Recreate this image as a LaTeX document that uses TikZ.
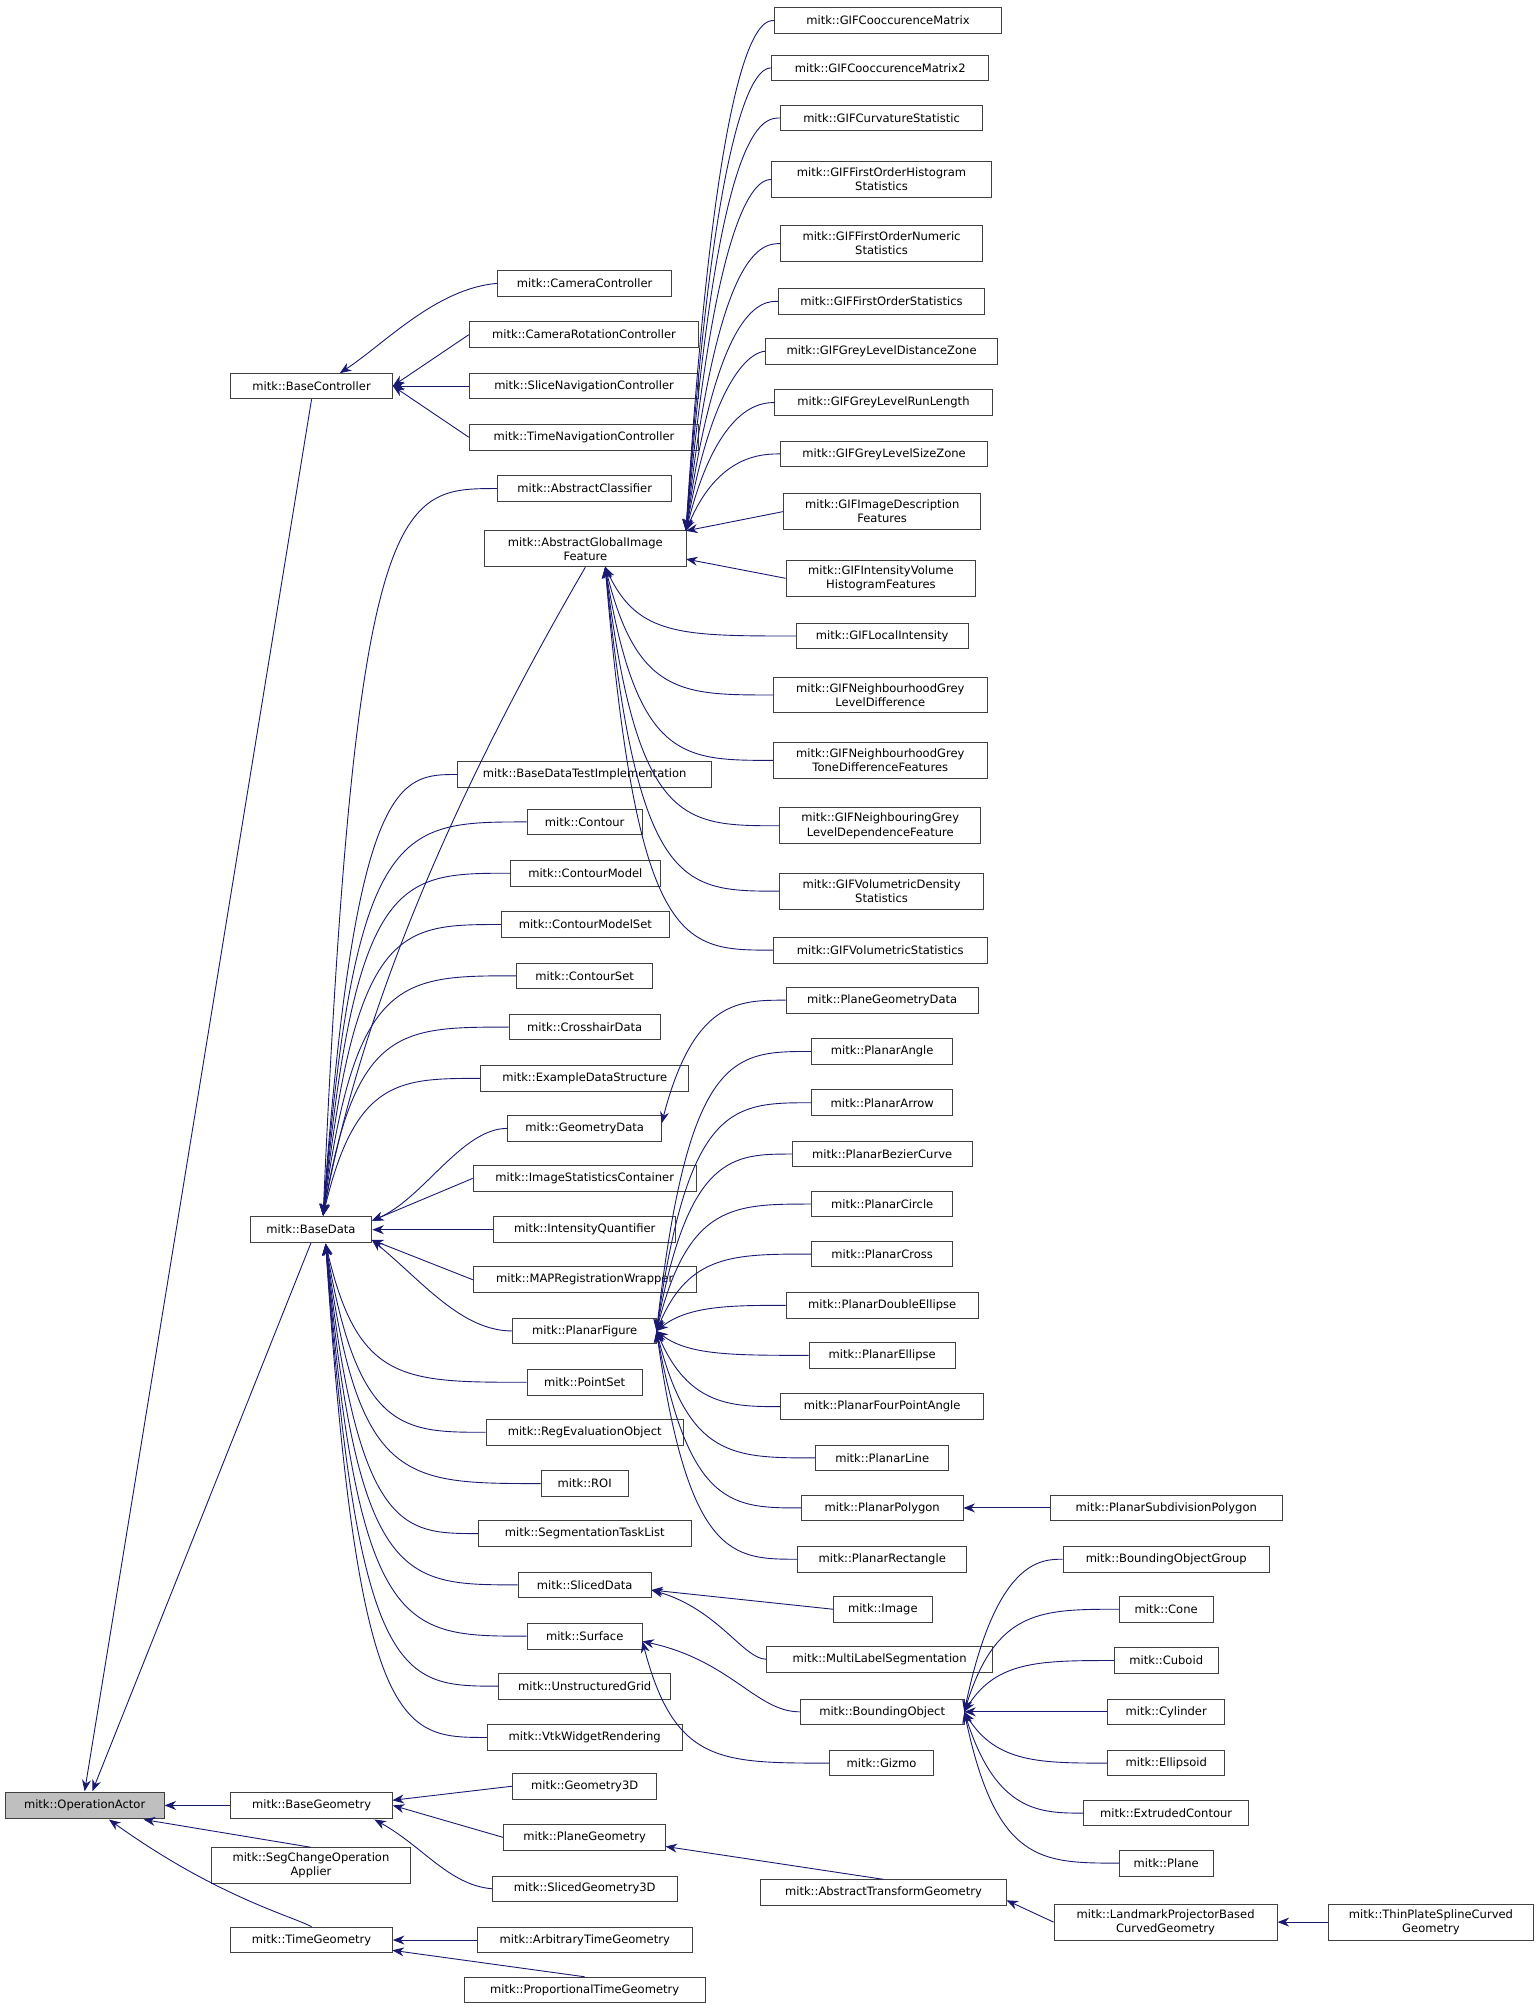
\documentclass[tikz,border=0pt]{standalone}
\usepackage{fontspec}
\setmainfont{DejaVu Sans}
\usetikzlibrary{arrows.meta,calc}
\definecolor{arr}{RGB}{25,25,112}
\tikzset{
 box/.style={draw=black!75,line width=0.7pt,inner sep=1pt,minimum height=20pt,align=center,font=\fontsize{9}{11}\selectfont},
 e/.style={draw=arr,line width=0.7pt,{Stealth[length=9pt,width=7pt]}-},
}
\newcommand\bx[6][]{\node[box,#1,minimum width={(#4)-(#3)}] (#2) at ({((#3)+(#4))/2},#5) {#6};}
\newcommand\lnk[2]{\draw[e] (#1) .. controls ($(#2.west -| #1)+(25,0)$) and ($(#2.west -| #1)+(60,0)$) .. (#2.west);}
\begin{document}
\begin{tikzpicture}[x=1pt,y=-1pt]
\useasboundingbox (0,0) rectangle (1200,1566);
\bx[fill=black!25]{oa}{4}{128}{1408}{mitk::OperationActor}
\bx{bc}{180}{306}{301}{mitk::BaseController}
\bx{bd}{195}{290}{959}{mitk::BaseData}
\bx{bg}{180}{306}{1408}{mitk::BaseGeometry}
\bx[minimum height=28pt]{sc}{165}{320}{1455}{mitk::SegChangeOperation\\Applier}
\bx{tg}{180}{306}{1513}{mitk::TimeGeometry}
% column 2
\bx{cc}{388}{524}{221}{mitk::CameraController}
\bx{crc}{366}{545}{261}{mitk::CameraRotationController}
\bx{snc}{366}{545}{301}{mitk::SliceNavigationController}
\bx{tnc}{366}{545}{341}{mitk::TimeNavigationController}
\bx{ac}{388}{524}{381}{mitk::AbstractClassifier}
\bx[minimum height=28pt]{agif}{378}{535}{428}{mitk::AbstractGlobalImage\\Feature}
\bx{bdti}{357}{555}{604}{mitk::BaseDataTestImplementation}
\bx{con}{411}{501}{641}{mitk::Contour}
\bx{cm}{398}{515}{681}{mitk::ContourModel}
\bx{cms}{391}{522}{721}{mitk::ContourModelSet}
\bx{cs}{403}{509}{761}{mitk::ContourSet}
\bx{chd}{397}{515}{801}{mitk::CrosshairData}
\bx{eds}{375}{537}{841}{mitk::ExampleDataStructure}
\bx{gd}{396}{516}{880}{mitk::GeometryData}
\bx{isc}{369}{543}{919}{mitk::ImageStatisticsContainer}
\bx{iq}{385}{527}{959}{mitk::IntensityQuantifier}
\bx{mrw}{369}{543}{998}{mitk::MAPRegistrationWrapper}
\bx{pf}{400}{512}{1038}{mitk::PlanarFigure}
\bx{ps}{411}{501}{1078}{mitk::PointSet}
\bx{reo}{379}{533}{1117}{mitk::RegEvaluationObject}
\bx{roi}{422}{490}{1157}{mitk::ROI}
\bx{stl}{373}{539}{1196}{mitk::SegmentationTaskList}
\bx{sd}{404}{508}{1236}{mitk::SlicedData}
\bx{srf}{411}{501}{1276}{mitk::Surface}
\bx{ug}{389}{523}{1315}{mitk::UnstructuredGrid}
\bx{vwr}{380}{532}{1355}{mitk::VtkWidgetRendering}
\bx{g3d}{400}{512}{1393}{mitk::Geometry3D}
\bx{pg}{393}{519}{1433}{mitk::PlaneGeometry}
\bx{sg3}{384}{528}{1473}{mitk::SlicedGeometry3D}
\bx{atgm}{372}{540}{1513}{mitk::ArbitraryTimeGeometry}
\bx{ptg}{362}{550}{1552}{mitk::ProportionalTimeGeometry}
% column 3
\bx{gif1}{604}{781}{16}{mitk::GIFCooccurenceMatrix}
\bx{gif2}{602}{771}{53}{mitk::GIFCooccurenceMatrix2}
\bx{gif3}{609}{766}{92}{mitk::GIFCurvatureStatistic}
\bx[minimum height=28pt]{gif4}{602}{773}{140}{mitk::GIFFirstOrderHistogram\\Statistics}
\bx[minimum height=28pt]{gif5}{609}{766}{190}{mitk::GIFFirstOrderNumeric\\Statistics}
\bx{gif6}{607}{768}{235}{mitk::GIFFirstOrderStatistics}
\bx{gif7}{597}{778}{274}{mitk::GIFGreyLevelDistanceZone}
\bx{gif8}{604}{774}{314}{mitk::GIFGreyLevelRunLength}
\bx{gif9}{609}{770}{354}{mitk::GIFGreyLevelSizeZone}
\bx[minimum height=28pt]{gif10}{611}{765}{399}{mitk::GIFImageDescription\\Features}
\bx[minimum height=28pt]{gif11}{613}{761}{451}{mitk::GIFIntensityVolume\\HistogramFeatures}
\bx{gif12}{621}{755}{496}{mitk::GIFLocalIntensity}
\bx[minimum height=28pt]{gif13}{603}{770}{542}{mitk::GIFNeighbourhoodGrey\\LevelDifference}
\bx[minimum height=28pt]{gif14}{603}{770}{593}{mitk::GIFNeighbourhoodGrey\\ToneDifferenceFeatures}
\bx[minimum height=28pt]{gif15}{608}{765}{644}{mitk::GIFNeighbouringGrey\\LevelDependenceFeature}
\bx[minimum height=28pt]{gif16}{608}{767}{695}{mitk::GIFVolumetricDensity\\Statistics}
\bx{gif17}{603}{770}{741}{mitk::GIFVolumetricStatistics}
\bx{pgd}{613}{763}{780}{mitk::PlaneGeometryData}
\bx{pa}{633}{743}{820}{mitk::PlanarAngle}
\bx{parr}{633}{743}{860}{mitk::PlanarArrow}
\bx{pbc}{618}{758}{900}{mitk::PlanarBezierCurve}
\bx{pci}{633}{743}{939}{mitk::PlanarCircle}
\bx{pcr}{633}{743}{978}{mitk::PlanarCross}
\bx{pde}{613}{763}{1018}{mitk::PlanarDoubleEllipse}
\bx{pel}{631}{745}{1057}{mitk::PlanarEllipse}
\bx{pfpa}{609}{767}{1097}{mitk::PlanarFourPointAngle}
\bx{pl}{636}{740}{1137}{mitk::PlanarLine}
\bx{pp}{625}{751}{1176}{mitk::PlanarPolygon}
\bx{pr}{622}{754}{1216}{mitk::PlanarRectangle}
\bx{img}{650}{727}{1255}{mitk::Image}
\bx{mls}{598}{774}{1294}{mitk::MultiLabelSegmentation}
\bx{bo}{624}{752}{1335}{mitk::BoundingObject}
\bx{giz}{647}{728}{1375}{mitk::Gizmo}
\bx{atg}{593}{785}{1476}{mitk::AbstractTransformGeometry}
% column 4
\bx{psp}{819}{1000}{1176}{mitk::PlanarSubdivisionPolygon}
\bx{bog}{829}{990}{1216}{mitk::BoundingObjectGroup}
\bx{cone}{873}{946}{1255}{mitk::Cone}
\bx{cub}{869}{950}{1295}{mitk::Cuboid}
\bx{cyl}{864}{955}{1335}{mitk::Cylinder}
\bx{ell}{864}{955}{1375}{mitk::Ellipsoid}
\bx{ec}{845}{974}{1414}{mitk::ExtrudedContour}
\bx{pln}{873}{946}{1453}{mitk::Plane}
\bx[minimum height=28pt]{lpb}{822}{996}{1499}{mitk::LandmarkProjectorBased\\CurvedGeometry}
\bx[minimum height=28pt]{tps}{1036}{1196}{1499}{mitk::ThinPlateSplineCurved\\Geometry}
% tips
\coordinate (oaA) at (66,1397);
\coordinate (oaB) at (72,1397);
\coordinate (oaC) at (112,1419);
\coordinate (oaD) at (85,1419);
\coordinate (bcT) at (265,291);
\coordinate (bdU) at (252,948);
\coordinate (bdR) at (290,952);
\coordinate (bdD) at (254,970);
\coordinate (bdDR) at (290,967);
\coordinate (agU) at (535,414);
\coordinate (agR) at (535,436);
\coordinate (agD) at (472,442);
\coordinate (gdT) at (516,876);
\coordinate (pfT) at (512,1038);
\coordinate (sdT) at (508,1240);
\coordinate (srT) at (501,1280);
\coordinate (boT) at (752,1335);
\coordinate (bgT) at (306,1404);
\coordinate (bgD) at (292,1419);
\coordinate (pgT) at (519,1440);
\coordinate (atT) at (785,1482);
\coordinate (tgD) at (306,1521);
% edges
\draw[e] (oaA) -- (bc.south);
\draw[e] (oaB) -- (bd.south);
\draw[e] (oa.east) -- (bg.west);
\draw[e] (oaC) -- (sc.north);
\draw[e] (oaD) .. controls (170,1480) and (230,1495) .. (tg.north);
\draw[e] (bcT) .. controls (300,268) and (340,225) .. (cc.west);
\draw[e] (bc.east) -- (crc.west);
\draw[e] (bc.east) -- (snc.west);
\draw[e] (bc.east) -- (tnc.west);
\lnk{bdU}{ac}
\draw[e] (bdU) .. controls (290,740) and (400,540) .. (agif.south);
\foreach \n in {bdti,con,cm,cms,cs,chd,eds} {\lnk{bdU}{\n}}
\draw[e] (bdR) .. controls (330,935) and (360,880) .. (gd.west);
\draw[e] (bdR) -- (isc.west);
\draw[e] (bd.east) -- (iq.west);
\draw[e] (bdDR) -- (mrw.west);
\draw[e] (bdDR) .. controls (330,1000) and (360,1038) .. (pf.west);
\foreach \n in {ps,reo,roi,stl,sd,srf,ug,vwr} {\lnk{bdD}{\n}}
\foreach \n in {gif1,gif2,gif3,gif4,gif5,gif6,gif7,gif8,gif9} {\lnk{agU}{\n}}
\draw[e] (agU) -- (gif10.west);
\draw[e] (agR) -- (gif11.west);
\foreach \n in {gif12,gif13,gif14,gif15,gif16,gif17} {\lnk{agD}{\n}}
\lnk{gdT}{pgd}
\foreach \n in {pa,parr,pbc,pci,pcr,pde,pel,pfpa,pl,pp,pr} {\lnk{pfT}{\n}}
\draw[e] (pp.east) -- (psp.west);
\draw[e] (sdT) -- (img.west);
\draw[e] (sdT) .. controls (560,1255) and (580,1294) .. (mls.west);
\draw[e] (srT) .. controls (570,1295) and (590,1335) .. (bo.west);
\lnk{srT}{giz}
\foreach \n in {bog,cone,cub,cyl,ell,ec,pln} {\lnk{boT}{\n}}
\draw[e] (bgT) -- (g3d.west);
\draw[e] (bg.east) -- (pg.west);
\draw[e] (bgD) .. controls (330,1440) and (350,1470) .. (sg3.west);
\draw[e] (pgT) -- (atg.north);
\draw[e] (atT) -- (lpb.west);
\draw[e] (lpb.east) -- (tps.west);
\draw[e] (tg.east) -- (atgm.west);
\draw[e] (tgD) -- (ptg.north);
\end{tikzpicture}
\end{document}
